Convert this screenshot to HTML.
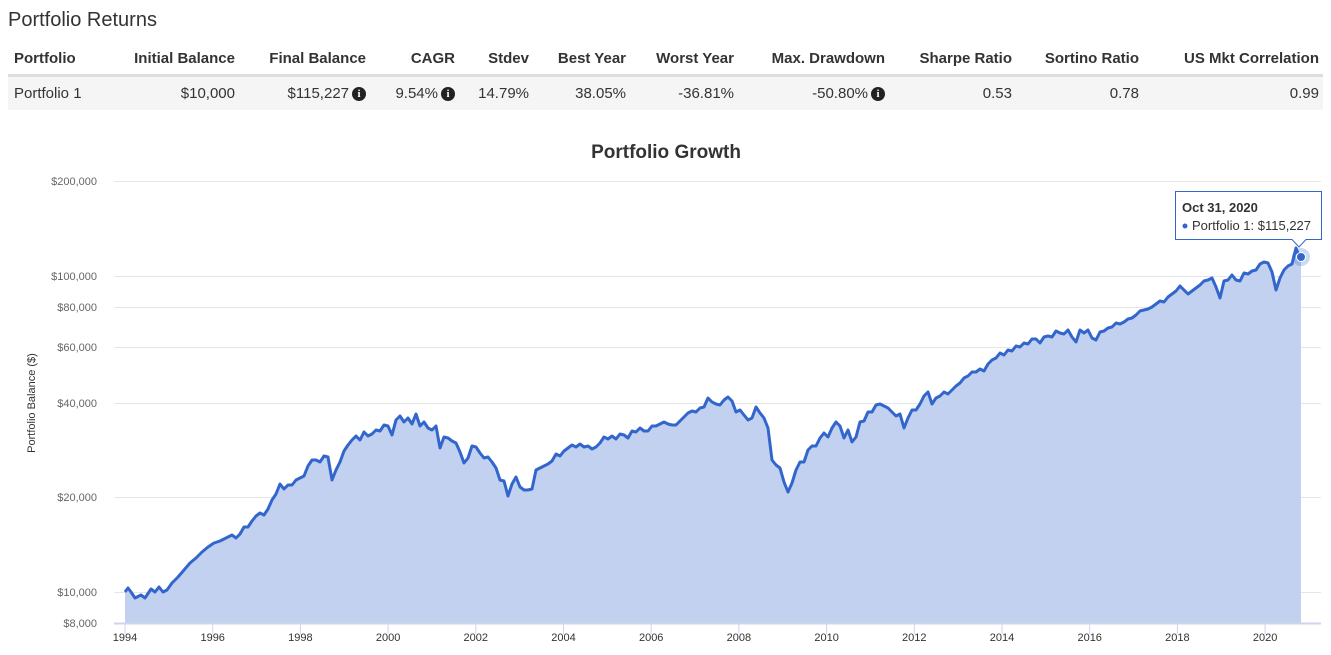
<!DOCTYPE html>
<html><head><meta charset="utf-8">
<style>
body{margin:0;width:1331px;height:655px;background:#fff;font-family:"Liberation Sans",Arial,sans-serif;color:#333;position:relative;overflow:hidden}
.t{position:absolute;white-space:nowrap}
.h{font-weight:bold;font-size:15px;top:50px}
.r{font-size:15px;top:85px}
.i{display:inline-block;width:14px;height:14px;border-radius:50%;background:#222;color:#fff;font-size:11px;font-weight:bold;text-align:center;line-height:14px;font-family:"Liberation Serif",serif;vertical-align:1px;margin-left:3px}
</style></head><body>
<div class="t" style="left:8px;top:9px;font-size:20px;color:#333">Portfolio Returns</div>
<div style="position:absolute;left:8px;top:74px;width:1315px;height:3px;background:#ddd"></div>
<div style="position:absolute;left:8px;top:77px;width:1315px;height:33px;background:#f5f5f5"></div>
<div class="t h" style="left:14px">Portfolio</div>
<div class="t h" style="right:1096px">Initial Balance</div>
<div class="t h" style="right:965px">Final Balance</div>
<div class="t h" style="right:876px">CAGR</div>
<div class="t h" style="right:802px">Stdev</div>
<div class="t h" style="right:705px">Best Year</div>
<div class="t h" style="right:597px">Worst Year</div>
<div class="t h" style="right:446px">Max. Drawdown</div>
<div class="t h" style="right:319px">Sharpe Ratio</div>
<div class="t h" style="right:192px">Sortino Ratio</div>
<div class="t h" style="right:12px">US Mkt Correlation</div>
<div class="t r" style="left:14px">Portfolio 1</div>
<div class="t r" style="right:1096px">$10,000</div>
<div class="t r" style="right:965px">$115,227<span class="i">i</span></div>
<div class="t r" style="right:876px">9.54%<span class="i">i</span></div>
<div class="t r" style="right:802px">14.79%</div>
<div class="t r" style="right:705px">38.05%</div>
<div class="t r" style="right:597px">-36.81%</div>
<div class="t r" style="right:446px">-50.80%<span class="i">i</span></div>
<div class="t r" style="right:319px">0.53</div>
<div class="t r" style="right:192px">0.78</div>
<div class="t r" style="right:12px">0.99</div>

<svg width="1331" height="655" style="position:absolute;left:0;top:0" font-family="Liberation Sans,Arial,sans-serif">
<text x="666" y="158" text-anchor="middle" font-size="19" font-weight="bold" fill="#333">Portfolio Growth</text>
<g stroke="#e6e6e6" stroke-width="1">
<line x1="114" x2="1321" y1="181.5" y2="181.5"/>
<line x1="114" x2="1321" y1="276.5" y2="276.5"/>
<line x1="114" x2="1321" y1="307.5" y2="307.5"/>
<line x1="114" x2="1321" y1="347.5" y2="347.5"/>
<line x1="114" x2="1321" y1="403.5" y2="403.5"/>
<line x1="114" x2="1321" y1="497.5" y2="497.5"/>
<line x1="114" x2="1321" y1="592.5" y2="592.5"/>
</g>
<g font-size="11" fill="#666" text-anchor="end">
<text x="97" y="185">$200,000</text>
<text x="97" y="280">$100,000</text>
<text x="97" y="311">$80,000</text>
<text x="97" y="351">$60,000</text>
<text x="97" y="407">$40,000</text>
<text x="97" y="501">$20,000</text>
<text x="97" y="596">$10,000</text>
<text x="97" y="627">$8,000</text>
</g>
<text transform="translate(35,403) rotate(-90)" text-anchor="middle" font-size="11" fill="#333">Portfolio Balance ($)</text>
<polygon id="area" fill="#c1d1ef" points=""/>
<polyline id="ln" fill="none" stroke="#3366cc" stroke-width="3" stroke-linejoin="round" points=""/>
<line x1="114" x2="1321" y1="623.5" y2="623.5" stroke="#ccd6eb" stroke-width="2"/>
<g stroke="#ccd6eb" stroke-width="1" id="ticks"></g>
<g font-size="11" fill="#333" text-anchor="middle" id="xl"></g>
<circle cx="1301" cy="257" r="9" fill="#3366cc" fill-opacity="0.25"/>
<circle cx="1301" cy="257" r="4.5" fill="#3366cc" stroke="#fff" stroke-width="1"/>
<path d="M1175.5,191.5 H1321.5 V239.5 H1306 L1299,247 L1292,239.5 H1175.5 Z" fill="#fff" fill-opacity="0.95" stroke="#3366cc" stroke-width="1"/>
<text x="1182" y="212" font-size="13" font-weight="bold" fill="#333">Oct 31, 2020</text>
<circle cx="1185" cy="226" r="2.5" fill="#3366cc"/>
<text x="1192" y="230" font-size="13" fill="#333">Portfolio 1: $115,227</text>
</svg>
<script>
var p=[125,592,128,588,131,592,135,598,141,595,145,598,151,589,155,592,159,587,163,592,167,590,172,583,178,577,184,570,190,563,196,558,202,552,208,547,214,543,220,541,226,538,232,535,236,538,240,534,244,527,248,527,252,521,256,516,260,513,264,515,268,509,272,500,276,494,280,484,284,489,288,485,292,485,296,480,300,478,304,476,308,466,312,460,316,460,320,462,324,456,328,457,332,480,336,470,340,462,344,451,348,445,352,440,356,436,360,440,364,432,368,436,372,434,376,430,380,431,384,425,388,426,392,435,396,420,400,416,404,422,408,418,412,424,416,414,420,426,424,422,428,428,432,430,436,426,440,448,444,437,448,438,452,441,456,443,460,452,464,463,468,458,472,446,476,447,480,453,484,458,488,457,492,462,496,468,500,480,504,481,508,496,512,484,516,477,520,487,524,490,528,490,532,489,536,470,540,468,544,466,548,464,552,461,556,454,560,456,564,451,568,448,572,445,576,447,580,444,584,447,588,446,592,449,596,447,600,443,604,437,608,439,612,436,616,439,620,434,624,435,628,438,632,431,636,432,640,428,644,431,648,431,652,426,656,426,660,424,664,422,668,424,672,425,676,425,680,421,684,417,688,413,692,411,696,412,700,408,704,407,708,398,712,402,716,404,720,405,724,400,728,397,732,401,736,412,740,410,744,415,748,420,752,418,756,407,760,413,764,418,768,428,772,460,776,465,780,468,784,482,788,492,792,483,796,470,800,462,804,462,808,450,812,446,816,446,820,438,824,433,828,437,832,428,836,422,840,426,844,438,848,430,852,442,856,437,860,422,864,421,868,412,872,412,876,405,880,404,884,406,888,408,892,412,896,416,900,414,904,428,908,418,912,410,916,410,920,404,924,396,928,392,932,404,936,398,940,396,944,392,948,394,952,390,956,386,960,383,964,378,968,376,972,372,976,372,980,369,984,371,988,364,992,360,996,358,1000,353,1004,355,1008,350,1012,351,1016,346,1020,347,1024,343,1028,344,1032,339,1036,339,1040,343,1044,337,1048,336,1052,337,1056,331,1060,333,1064,334,1068,330,1072,337,1076,342,1080,330,1084,333,1088,330,1092,338,1096,340,1100,332,1104,331,1108,328,1112,327,1116,323,1120,324,1124,322,1128,319,1132,318,1136,315,1140,311,1144,310,1148,309,1152,307,1156,304,1160,301,1164,302,1168,297,1172,294,1176,291,1180,286,1184,290,1188,294,1192,291,1196,288,1200,285,1204,281,1208,280,1212,278,1216,287,1220,298,1224,281,1228,280,1232,275,1236,280,1240,281,1244,273,1248,274,1252,271,1256,270,1260,264,1264,262,1268,263,1272,272,1276,290,1280,278,1284,270,1288,266,1292,264,1296,248,1299,256,1301,257];
var s=[];for(var i=0;i<p.length;i+=2)s.push(p[i]+','+p[i+1]);
document.getElementById('ln').setAttribute('points',s.join(' '));
document.getElementById('area').setAttribute('points','125,623 '+s.join(' ')+' 1301,623');
var t='',l='';
for(var y=1994;y<=2020;y+=2){var x=125+(y-1994)*43.85;t+='<line x1="'+x+'" x2="'+x+'" y1="624" y2="634"/>';l+='<text x="'+x+'" y="641">'+y+'</text>';}
document.getElementById('ticks').innerHTML=t;document.getElementById('xl').innerHTML=l;
</script>
</body></html>
